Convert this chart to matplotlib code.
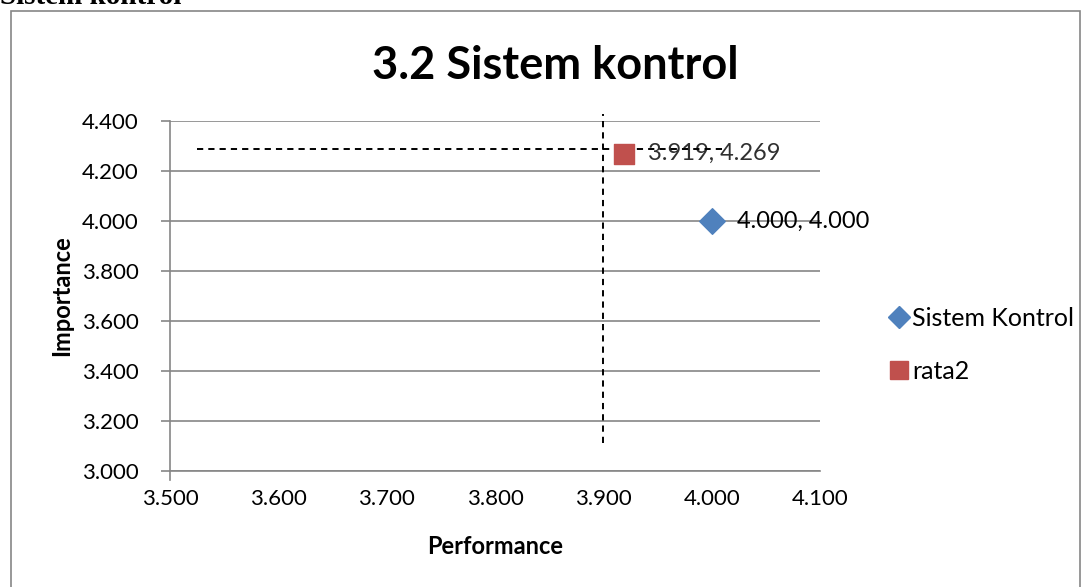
import matplotlib
matplotlib.use("Agg")
import matplotlib.pyplot as plt
from matplotlib.patches import Rectangle
from matplotlib.lines import Line2D

plt.rcParams['font.family'] = ['Lato', 'DejaVu Sans']

# data
series_name = "Sistem Kontrol"
perf_point = [4.000]
imp_point = [4.000]
avg_name = "rata2"
avg_perf = [3.919]
avg_imp = [4.269]
# reference dashed lines
hline_y = 4.288
hline_x = [3.525, 4.012]
vline_x = 3.900
vline_y = [3.112, 4.43]
xticks = [3.5, 3.6, 3.7, 3.8, 3.9, 4.0, 4.1]
yticks = [3.0, 3.2, 3.4, 3.6, 3.8, 4.0, 4.2, 4.4]

W, H = 1091, 587
fig = plt.figure(figsize=(W / 100, H / 100), dpi=100)

# outer frame (bottom goes beyond image)
fig.add_artist(Rectangle((10.5 / W, -0.05), (1080 - 10.5) / W, 1 - 10.5 / H + 0.05,
                         transform=fig.transFigure, fill=False, edgecolor='#868686', lw=1.2))
# cut-off text at top (partly outside the image, as in the reference)
fig.text(0 / W, 1 - 4 / H, "Sistem kontrol", fontsize=21, fontweight='bold',
         family=['Liberation Serif', 'DejaVu Serif'], va='baseline', ha='left', color='black')

ax = fig.add_axes([170 / W, 1 - 471 / H, (820 - 170) / W, (471 - 121) / H])
ax.set_xlim(3.5, 4.1)
ax.set_ylim(3.0, 4.4)
ax.set_xticks(xticks)
ax.set_yticks(yticks)
ax.set_xticklabels([f"{v:.3f}" for v in xticks])
ax.set_yticklabels([f"{v:.3f}" for v in yticks])
ax.tick_params(axis='x', labelsize=16, length=0, pad=13, labelcolor='black')
ax.tick_params(axis='y', labelsize=16, length=6.5, width=1.2, color='#868686', pad=16, labelcolor='black')
for s in ['top', 'right']:
    ax.spines[s].set_visible(False)
for s in ['left', 'bottom']:
    ax.spines[s].set_color('#868686')
    ax.spines[s].set_linewidth(1.2)
ax.spines['left'].set_bounds(3.0 - 9 / 250, 4.4)
ax.grid(axis='y', color='#868686', lw=1.2)
ax.set_axisbelow(True)

ax.plot(hline_x, [hline_y, hline_y], ls=(0, (3.2, 2.6)), color='black', lw=1.4, zorder=2, clip_on=False)
ax.plot([vline_x, vline_x], vline_y, ls=(0, (3.2, 2.6)), color='black', lw=1.4, zorder=2, clip_on=False)

ax.scatter(perf_point, imp_point, marker='D', s=170, color='#4F81BD', zorder=3, label=series_name)
ax.scatter(avg_perf, avg_imp, marker='s', s=200, color='#C0504D', zorder=3, label=avg_name)

for x, y in zip(perf_point, imp_point):
    ax.annotate(f"{x:.3f}, {y:.3f}", (x, y), xytext=(18, 0), textcoords='offset points',
                va='center', ha='left', fontsize=17, color='black')
for x, y in zip(avg_perf, avg_imp):
    ax.annotate(f"{x:.3f}, {y:.3f}", (x, y), xytext=(17, 0), textcoords='offset points',
                va='center', ha='left', fontsize=17, color='#303030', zorder=1)

ax.set_xlabel("Performance", fontsize=17, fontweight='bold', labelpad=19)
ax.set_ylabel("Importance", fontsize=17, fontweight='bold', labelpad=6)
fig.text(555 / W, 1 - 66 / H, "3.2 Sistem kontrol", fontsize=32.5, fontweight='bold',
         ha='center', va='center')

handles = [Line2D([], [], marker='D', ls='none', color='#4F81BD', markersize=11),
           Line2D([], [], marker='s', ls='none', color='#C0504D', markersize=13)]
fig.legend(handles, [series_name, avg_name], loc='upper left', bbox_to_anchor=(886 / W, 1 - 307 / H),
           frameon=False, fontsize=18, handletextpad=0.05, labelspacing=1.2, handlelength=1.0,
           borderaxespad=0, borderpad=0)

fig.savefig("out.png", dpi=100)
